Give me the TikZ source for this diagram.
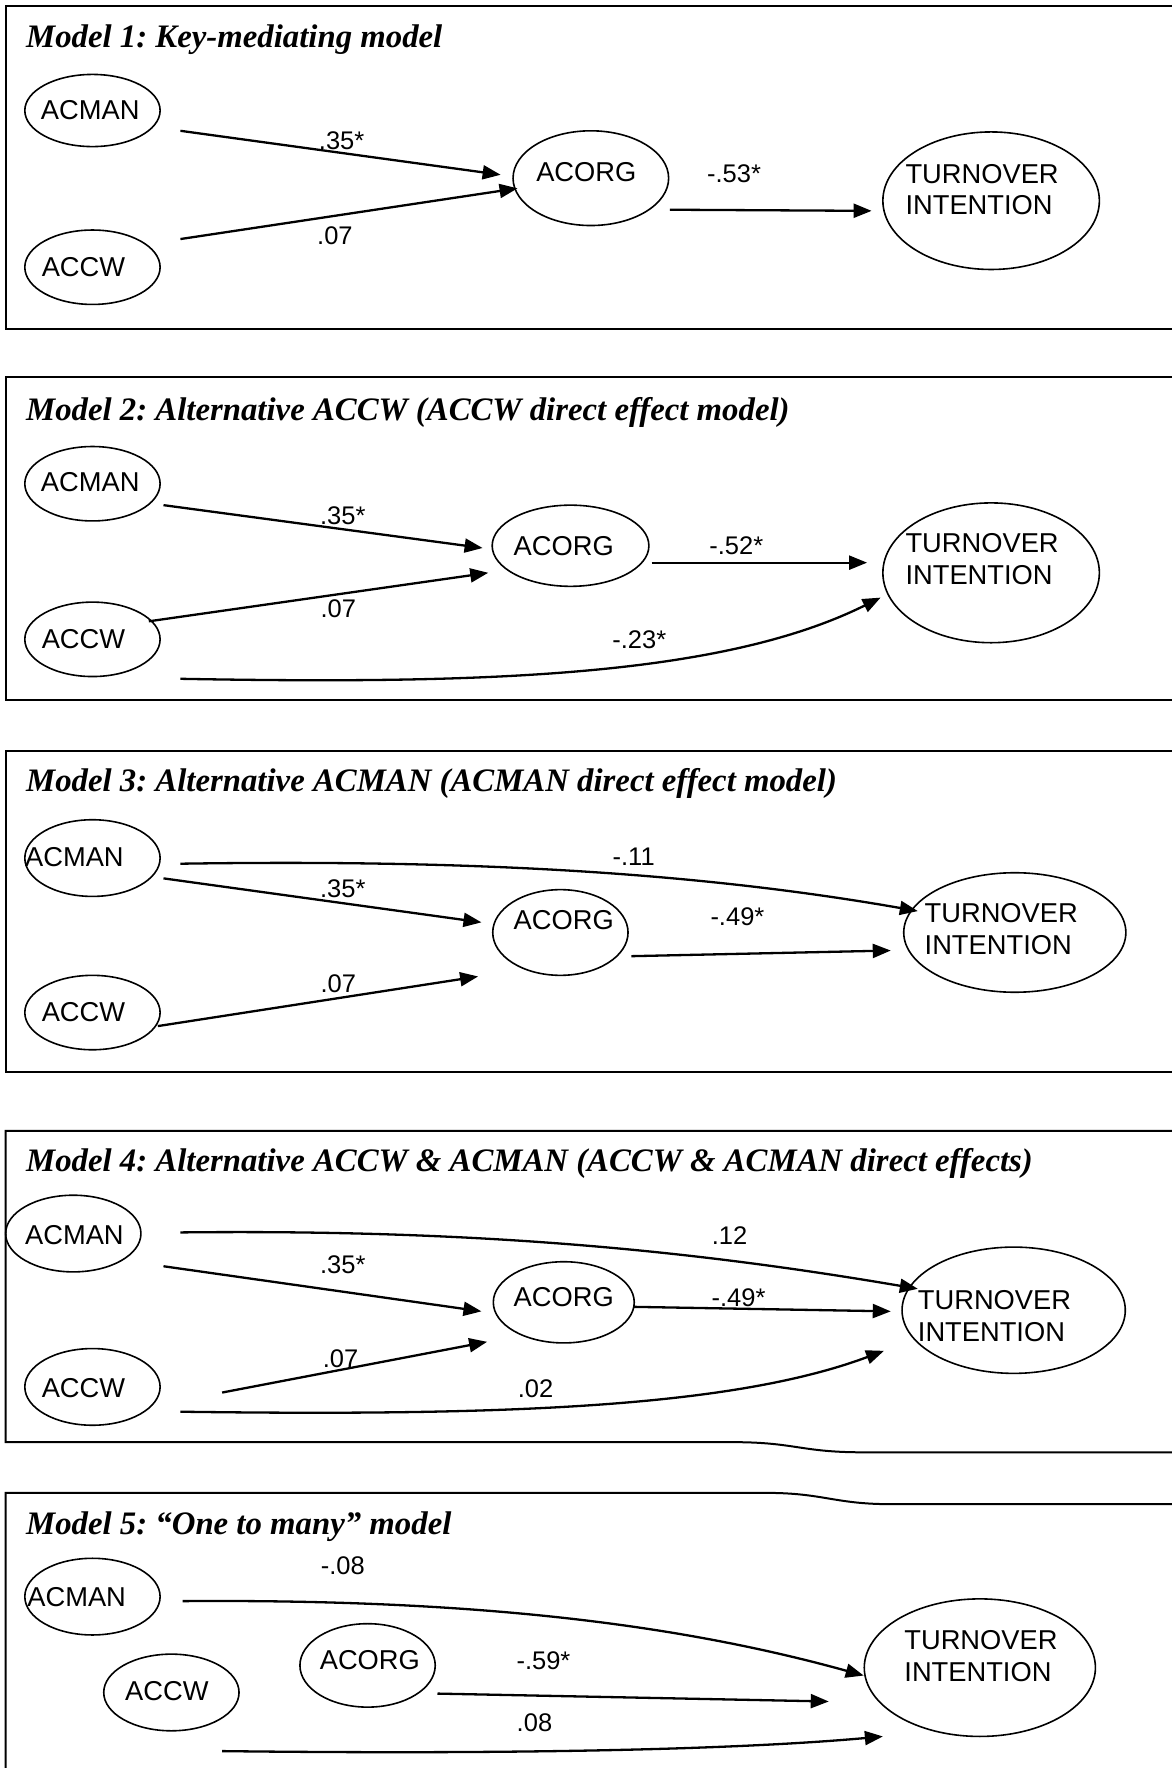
\documentclass[tikz,border=0pt]{standalone}
\usepackage{fontspec}
\setmainfont{Liberation Sans}
\newfontfamily\titlefont{Liberation Serif}
\usetikzlibrary{arrows.meta,shapes.geometric}
\frenchspacing
\newcommand\myEll[8]{%
  \node[ell,minimum width=1.128*#4pt,minimum height=1.128*#5pt] (#1) at (#2,#3) {};
  \node[txt] (#1t) at (#6,#7) {#8};}
\begin{document}
\begin{tikzpicture}[x=1.128pt,y=-1.128pt,
  ell/.style={draw,ellipse,line width=1.6pt,inner sep=0pt},
  txt/.style={font=\fontsize{27.3}{31.6}\selectfont,inner sep=0pt,align=left},
  num/.style={font=\fontsize{25.5}{30}\selectfont,inner sep=0pt},
  ttl/.style={font=\titlefont\bfseries\itshape\fontsize{32.8}{38}\selectfont,anchor=base west,inner sep=0pt},
  arr/.style={line width=2.3pt,-{Triangle[length=18pt,width=14pt]}},
  frame/.style={line width=2pt}]
\useasboundingbox (0,0) rectangle (1039,1568);
\fill[white] (0,0) rectangle (1039,1568);

% ---------------- Panel 1
\draw[frame] (1045,5) -- (5,5) -- (5,292) -- (1045,292);
\node[ttl] (t1) at (23,42) {Model 1: Key-mediating model};
\myEll{p1a}{82}{98}{120}{64}{80}{98}{ACMAN}
\myEll{p1w}{82}{237}{120}{66}{74}{237}{ACCW}
\myEll{p1o}{524}{158}{138}{84}{520}{153}{ACORG}
\myEll{p1t}{879}{178}{192}{122}{871}{168}{TURNOVER\\INTENTION}
\coordinate (p1s1) at (160,116); \coordinate (p1e1) at (444,155);
\coordinate (p1s2) at (160,212); \coordinate (p1e2) at (459,167);
\coordinate (p1s3) at (594,186); \coordinate (p1e3) at (773,187);
\draw[arr] (p1s1) -- (p1e1);
\draw[arr] (p1s2) -- (p1e2);
\draw[arr] (p1s3) -- (p1e3);
\node[num] (p1l1) at (303,125) {.35*};
\node[num] (p1l2) at (297,209) {.07};
\node[num] (p1l3) at (651,154) {-.53*};

% ---------------- Panel 2
\draw[frame] (1045,334) -- (5,334) -- (5,621) -- (1045,621);
\node[ttl] (t2) at (23,373) {Model 2: Alternative ACCW (ACCW direct effect model)};
\myEll{p2a}{82}{429}{120}{66}{80}{428}{ACMAN}
\myEll{p2w}{82}{567}{120}{66}{74}{567}{ACCW}
\myEll{p2o}{506}{484}{139}{72}{500}{484}{ACORG}
\myEll{p2t}{879}{508}{192}{124}{871}{496}{TURNOVER\\INTENTION}
\coordinate (p2s1) at (145,448); \coordinate (p2e1) at (428,486);
\coordinate (p2s2) at (132,551); \coordinate (p2e2) at (433,508);
\coordinate (p2s3) at (578,499); \coordinate (p2e3) at (769,499);
\coordinate (p2s4) at (160,602); \coordinate (p2e4) at (781,530);
\draw[arr] (p2s1) -- (p2e1);
\draw[arr] (p2s2) -- (p2e2);
\draw[arr] (p2s3) -- (p2e3);
\draw[arr] (p2s4) .. controls (430,607) and (640,600) .. (p2e4);
\node[num] (p2l1) at (304,457) {.35*};
\node[num] (p2l2) at (300,540) {.07};
\node[num] (p2l3) at (653,484) {-.52*};
\node[num] (p2l4) at (567,567) {-.23*};

% ---------------- Panel 3
\draw[frame] (1045,666) -- (5,666) -- (5,951) -- (1045,951);
\node[ttl] (t3) at (23,702) {Model 3: Alternative ACMAN (ACMAN direct effect model)};
\myEll{p3a}{82}{761}{120}{68}{66}{760}{ACMAN}
\myEll{p3w}{82}{898}{120}{66}{74}{898}{ACCW}
\myEll{p3o}{497}{827}{120}{76}{500}{816}{ACORG}
\myEll{p3t}{900}{827}{197}{106}{888}{824}{TURNOVER\\INTENTION}
\coordinate (p3s1) at (145,779); \coordinate (p3e1) at (427,818);
\coordinate (p3s2) at (140,910); \coordinate (p3e2) at (424,866);
\coordinate (p3s3) at (560,848); \coordinate (p3e3) at (790,843);
\coordinate (p3s4) at (160,766); \coordinate (p3e4) at (814,808);
\draw[arr] (p3s1) -- (p3e1);
\draw[arr] (p3s2) -- (p3e2);
\draw[arr] (p3s3) -- (p3e3);
\draw[arr] (p3s4) .. controls (420,762) and (620,774) .. (p3e4);
\node[num] (p3l1) at (304,788) {.35*};
\node[num] (p3l2) at (300,872) {.07};
\node[num] (p3l3) at (654,813) {-.49*};
\node[num] (p3l4) at (562,760) {-.11};

% ---------------- Panel 4
\draw[frame] (1045,1003) -- (5,1003) -- (5,1279) -- (650,1279)
  .. controls (705,1279) and (710,1288) .. (765,1288) -- (1045,1288);
\node[ttl] (t4) at (23,1039) {Model 4: Alternative ACCW \& ACMAN (ACCW \& ACMAN direct effects)};
\myEll{p4a}{65}{1094}{120}{68}{66}{1095}{ACMAN}
\myEll{p4w}{82}{1230}{120}{68}{74}{1231}{ACCW}
\myEll{p4o}{500}{1155}{125}{72}{500}{1150}{ACORG}
\myEll{p4t}{899}{1162}{198}{112}{882}{1167}{TURNOVER\\INTENTION}
\coordinate (p4s1) at (145,1123); \coordinate (p4e1) at (427,1163);
\coordinate (p4s2) at (562,1159); \coordinate (p4e2) at (790,1163);
\coordinate (p4s3) at (197,1235); \coordinate (p4e3) at (432,1190);
\coordinate (p4s4) at (160,1093); \coordinate (p4e4) at (814,1143);
\coordinate (p4s5) at (160,1252); \coordinate (p4e5) at (784,1198);
\draw[arr] (p4s1) -- (p4e1);
\draw[arr] (p4s2) -- (p4e2);
\draw[arr] (p4s3) -- (p4e3);
\draw[arr] (p4s4) .. controls (430,1090) and (620,1110) .. (p4e4);
\draw[arr] (p4s5) .. controls (450,1256) and (650,1248) .. (p4e5);
\node[num] (p4l1) at (304,1122) {.35*};
\node[num] (p4l2) at (655,1151) {-.49*};
\node[num] (p4l3) at (302,1205) {.07};
\node[num] (p4l4) at (647,1096) {.12};
\node[num] (p4l5) at (475,1232) {.02};

% ---------------- Panel 5
\draw[frame] (5,1580) -- (5,1324) -- (680,1324)
  .. controls (730,1324) and (740,1334) .. (790,1334) -- (1045,1334);
\node[ttl] (t5) at (23,1361) {Model 5: “One to many” model};
\myEll{p5a}{82}{1416}{120}{68}{68}{1416}{ACMAN}
\myEll{p5w}{152}{1501}{120}{68}{148}{1500}{ACCW}
\myEll{p5o}{326}{1477}{120}{74}{328}{1472}{ACORG}
\myEll{p5t}{869}{1479}{205}{122}{870}{1469}{TURNOVER\\INTENTION}
\coordinate (p5s1) at (162,1420); \coordinate (p5e1) at (766,1486);
\coordinate (p5s2) at (388,1502); \coordinate (p5e2) at (735,1509);
\coordinate (p5s3) at (197,1553); \coordinate (p5e3) at (783,1540);
\draw[arr] (p5s1) .. controls (420,1418) and (600,1440) .. (p5e1);
\draw[arr] (p5s2) -- (p5e2);
\draw[arr] (p5s3) .. controls (450,1556) and (650,1552) .. (p5e3);
\node[num] (p5l1) at (304,1389) {-.08};
\node[num] (p5l2) at (482,1473) {-.59*};
\node[num] (p5l3) at (474,1528) {.08};
\end{tikzpicture}
\end{document}
